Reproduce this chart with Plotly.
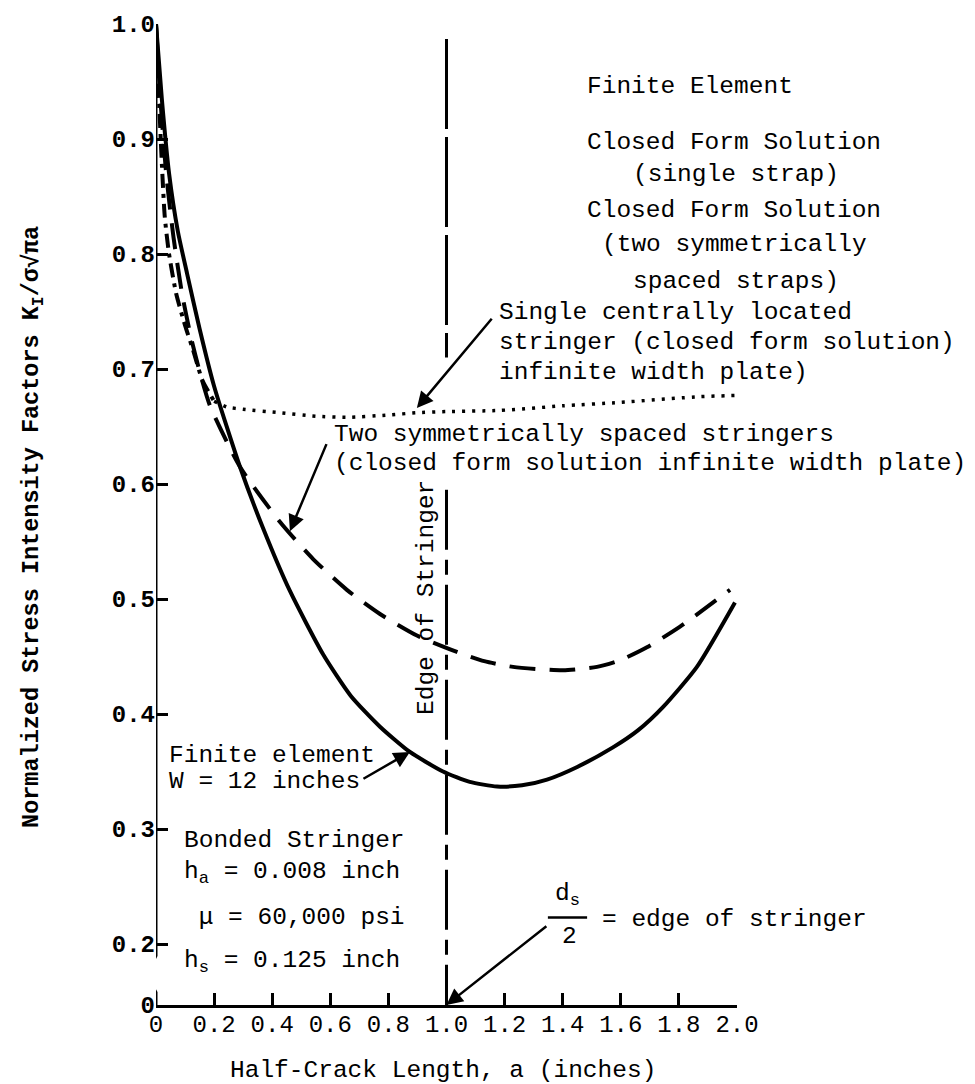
import plotly.graph_objects as go

# Half-crack length a (inches) and normalized stress intensity factor K_I / (sigma*sqrt(pi*a))
# Finite element, W = 12 inches (solid)
a_fe = [0.0, 0.02, 0.045, 0.075, 0.107, 0.15, 0.20, 0.289, 0.368, 0.461, 0.575,
        0.67, 0.771, 0.874, 0.988, 1.08, 1.174, 1.26, 1.346, 1.45, 1.573, 1.66,
        1.745, 1.862, 1.993]
k_fe = [1.0, 0.935, 0.87, 0.82, 0.783, 0.735, 0.685, 0.615, 0.562, 0.507, 0.452,
        0.416, 0.389, 0.367, 0.350, 0.341, 0.337, 0.338, 0.343, 0.354, 0.371, 0.386,
        0.406, 0.441, 0.497]

# Two symmetrically spaced stringers, closed form (dashed)
a_two = [0.0, 0.015, 0.035, 0.06, 0.09, 0.12, 0.151, 0.186, 0.289, 0.427, 0.540,
         0.657, 0.771, 0.90, 1.036, 1.13, 1.229, 1.401, 1.518, 1.60, 1.690, 1.804,
         1.976]
k_two = [1.0, 0.935, 0.87, 0.815, 0.765, 0.728, 0.697, 0.668, 0.615, 0.567, 0.535,
         0.508, 0.487, 0.468, 0.454, 0.446, 0.441, 0.438, 0.441, 0.447, 0.458, 0.476,
         0.508]

# Single centrally located stringer, closed form (dash-dot, then dotted)
a_one = [0.0, 0.008, 0.018, 0.03, 0.045, 0.07, 0.10, 0.127, 0.16, 0.20, 0.244, 0.30,
         0.427, 0.55, 0.657, 0.80, 0.898, 1.0, 1.184, 1.40, 1.60, 1.873, 2.0]
k_one = [1.0, 0.95, 0.89, 0.833, 0.80, 0.765, 0.738, 0.717, 0.69, 0.672, 0.667, 0.665,
         0.662, 0.659, 0.658, 0.660, 0.662, 0.663, 0.664, 0.668, 0.671, 0.676, 0.677]
ONE_SPLIT = 9  # index where the closed form curve levels off

EDGE_X = 1.0          # d_s / 2, edge of stringer
Y_BASE = 0.147        # bottom of the broken y axis, labelled "0"

x_ticks = [0.0, 0.2, 0.4, 0.6, 0.8, 1.0, 1.2, 1.4, 1.6, 1.8, 2.0]
x_tick_text = ["0", "0.2", "0.4", "0.6", "0.8", "1.0", "1.2", "1.4", "1.6", "1.8", "2.0"]
y_ticks = [Y_BASE, 0.2, 0.3, 0.4, 0.5, 0.6, 0.7, 0.8, 0.9, 1.0]
y_tick_text = ["0", "0.2", "0.3", "0.4", "0.5", "0.6", "0.7", "0.8", "0.9", "1.0"]

MONO = "Liberation Mono"
INK = "#000000"

fig = go.Figure()

fig.add_trace(go.Scatter(
    x=a_fe, y=k_fe, mode="lines", cliponaxis=False,
    line=dict(color=INK, width=4, shape="spline", smoothing=0.6)))
fig.add_trace(go.Scatter(
    x=a_two, y=k_two, mode="lines", cliponaxis=False,
    line=dict(color=INK, width=4, dash="26px,14px", shape="spline", smoothing=0.6)))
fig.add_trace(go.Scatter(
    x=a_one[:ONE_SPLIT + 1], y=k_one[:ONE_SPLIT + 1], mode="lines", cliponaxis=False,
    line=dict(color=INK, width=4, dash="14px,6px,4px,6px", shape="spline", smoothing=0.6)))
fig.add_trace(go.Scatter(
    x=a_one[ONE_SPLIT:], y=k_one[ONE_SPLIT:], mode="lines", cliponaxis=False,
    line=dict(color=INK, width=3.5, dash="3px,7px", shape="spline", smoothing=0.6)))


def note(text, x, y, xanchor="left", size=24.5, **kw):
    return dict(text=text, x=x, y=y, xref="x", yref="y", showarrow=False,
                xanchor=xanchor, yanchor="middle",
                font=dict(family=MONO, size=size, color=INK), **kw)


def arrow(x, y, ax, ay):
    return dict(text="", x=x, y=y, ax=ax, ay=ay, xref="x", yref="y",
                axref="x", ayref="y", showarrow=True, arrowhead=2,
                arrowsize=1.3, arrowwidth=2.5, arrowcolor=INK)


annotations = [
    # legend-style notes, upper right
    note("Finite Element", 1.477, 0.946),
    note("Closed Form Solution", 1.990, 0.897, xanchor="center"),
    note("(single strap)", 1.997, 0.869, xanchor="center"),
    note("Closed Form Solution", 1.990, 0.838, xanchor="center"),
    note("(two symmetrically", 1.990, 0.808, xanchor="center"),
    note("spaced straps)", 1.997, 0.776, xanchor="center"),
    # curve labels
    note("Single centrally located", 1.174, 0.749),
    note("stringer (closed form solution)", 1.174, 0.723),
    note("infinite width plate)", 1.174, 0.697),
    note("Two symmetrically spaced stringers", 0.606, 0.643),
    note("(closed form solution infinite width plate)", 0.606, 0.618),
    note("Finite element", 0.038, 0.364),
    note("W = 12 inches", 0.038, 0.341),
    # stringer properties
    note("Bonded Stringer", 0.0895, 0.290),
    note("h<sub>a</sub> = 0.008 inch", 0.0895, 0.262),
    note(" \u03bc = 60,000 psi", 0.0895, 0.223),
    note("h<sub>s</sub> = 0.125 inch", 0.0895, 0.184),
    # d_s / 2 = edge of stringer
    note("d<sub>s</sub>", 1.418, 0.243, xanchor="center"),
    note("2", 1.425, 0.207, xanchor="center"),
    note("= edge of stringer", 1.528, 0.221),
    note("Edge of Stringer", 0.933, 0.501, xanchor="center", textangle=-90),
    # axis titles (paper coordinates, outside the plotting area)
    dict(text="Half-Crack Length, a (inches)", x=0.124, y=-0.0663,
         xref="paper", yref="paper", showarrow=False,
         xanchor="left", yanchor="middle",
         font=dict(family=MONO, size=24.5, color=INK)),
    dict(text="<b>Normalized Stress Intensity Factors K<sub>I</sub>/\u03c3\u221a\u03c0a</b>",
         x=-0.2117, y=0.4873, xref="paper", yref="paper", showarrow=False,
         textangle=-90, xanchor="center", yanchor="middle",
         font=dict(family=MONO, size=23.5, color=INK)),
    # pointers
    arrow(0.898, 0.666, 1.160, 0.745),
    arrow(0.461, 0.559, 0.589, 0.636),
    arrow(0.874, 0.367, 0.709, 0.343),
    arrow(EDGE_X, Y_BASE, 1.349, 0.2165),
]

shapes = [
    # y axis with a break between 0 and 0.2
    dict(type="path", xref="x", yref="y", layer="above",
         path=f"M 0,1.0 L 0,0.19 L -0.032,0.173 L 0,0.158 L 0,{Y_BASE}",
         line=dict(color=INK, width=3)),
    # edge of stringer chain line
    dict(type="line", xref="x", yref="y", x0=EDGE_X, x1=EDGE_X, y0=0.987, y1=0.710,
         line=dict(color=INK, width=3, dash="90px,8px")),
    dict(type="line", xref="x", yref="y", x0=EDGE_X, x1=EDGE_X, y0=0.595, y1=Y_BASE,
         line=dict(color=INK, width=3, dash="60px,10px,15px,10px")),
    # fraction bar of d_s / 2
    dict(type="line", xref="x", yref="y", x0=1.349, x1=1.484, y0=0.223, y1=0.223,
         line=dict(color=INK, width=2.5)),
]

fig.update_layout(
    width=975, height=1084,
    margin=dict(l=156, r=238, t=24, b=79, pad=0),
    paper_bgcolor="white", plot_bgcolor="white",
    showlegend=False,
    annotations=annotations,
    shapes=shapes,
    xaxis=dict(range=[0, 2.0], showgrid=False, zeroline=False,
               showline=True, linecolor=INK, linewidth=3,
               ticks="inside", ticklen=12, tickwidth=2.5, tickcolor=INK,
               tickvals=x_ticks, ticktext=x_tick_text, ticklabelstandoff=-5,
               tickfont=dict(family=MONO, size=24, color=INK)),
    yaxis=dict(range=[Y_BASE, 1.0], showgrid=False, zeroline=False,
               showline=False,
               ticks="inside", ticklen=12, tickwidth=2.5, tickcolor=INK,
               tickvals=y_ticks, ticktext=y_tick_text,
               tickfont=dict(family=MONO, size=24, color=INK, weight="bold")),
)

fig.write_html("out.html")
